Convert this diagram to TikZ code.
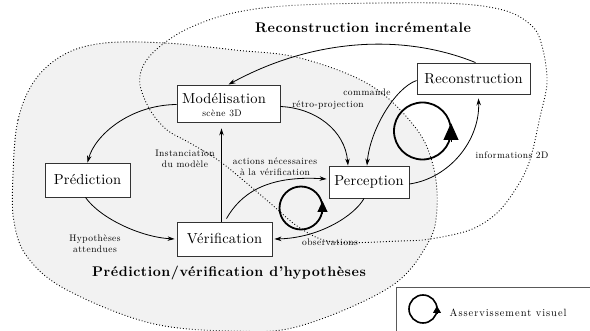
\documentclass[tikz,border=0pt]{standalone}
\usepackage{fontspec}
\setmainfont{lmroman10-regular}[Extension=.otf, BoldFont=lmroman10-bold, ItalicFont=lmroman10-italic, BoldItalicFont=lmroman10-bolditalic]
\usetikzlibrary{arrows.meta,calc}
\begin{document}
\begin{tikzpicture}[x=1pt,y=-1pt,
  box/.style={draw=black!80, line width=0.9pt, fill=white, inner sep=0pt, font=\fontsize{14.5}{16}\selectfont\addfontfeatures{LetterSpace=1.5}},
  lab/.style={font=\fontsize{9.5}{11}\selectfont\addfontfeatures{LetterSpace=4.5}, inner sep=0.5pt, align=center},
  ttl/.style={font=\fontsize{14}{16}\selectfont\bfseries\addfontfeatures{LetterSpace=4}},
  conn/.style={line width=0.8pt, -{Stealth[length=7pt,width=4.5pt]}},
  zone/.style={dash pattern=on 0.9pt off 2.1pt, line width=0.9pt},
  loopc/.style={line width=1.8pt},
]
\useasboundingbox (0,0) rectangle (590,331);
\clip (0,0) rectangle (590,331);

% zones
\draw[zone, fill=black!5] plot[smooth cycle, tension=0.6] coordinates {
 (13,175) (18,120) (35,80) (65,54) (105,43) (165,43) (235,50) (300,58)
 (370,85) (415,127) (433,165) (437,208) (428,243) (390,287) (300,326)
 (233,331) (150,323) (67,290) (28,258) (14,222)};
\draw[zone] plot[smooth cycle, tension=0.55] coordinates {
 (300,5) (233,13) (187,29) (158,48) (143,66) (140,85) (150,110) (167,130)
 (190,143) (218,160) (243,180) (270,203) (300,228) (333,242) (400,241)
 (430,239) (470,230) (497,213) (517,187) (530,160) (540,117) (547,83)
 (543,50) (533,27) (503,10) (440,3)};

% titles
\node[ttl] (t1) at (363,28) {Reconstruction incrémentale};
\node[ttl] (t2) at (229,273) {Prédiction/vérification d'hypothèses};

% boxes
\node[box, minimum width=103pt, minimum height=37pt] (model) at (228.5,103.5) {};
\node[font=\fontsize{14.5}{16}\selectfont\addfontfeatures{LetterSpace=1.5}, anchor=base, inner sep=0pt] (modeltxt) at (224,104) {Modélisation};
\node[lab, anchor=base] (scene) at (222,117) {scène 3D};
\node[box, minimum width=113pt, minimum height=31pt] (recon) at (473.5,78.5) {Reconstruction};
\node[box, minimum width=85pt, minimum height=34pt] (pred) at (87.5,180) {Prédiction};
\node[box, minimum width=80pt, minimum height=32pt] (perc) at (369,182) {Perception};
\node[box, minimum width=95pt, minimum height=34pt] (verif) at (224.5,239) {Vérification};

% connectors
\draw[conn] ([xshift=2pt]recon.north) .. controls (400,32) and (310,40) .. (model.north);
\draw[conn] ([yshift=-1pt]model.west) .. controls (130,105) and (95,135) .. (pred.north);
\draw[conn] ([yshift=-3pt]model.east) .. controls (315,108) and (345,130) .. ([xshift=-21pt]perc.north);
\draw[conn] ([yshift=-2pt]recon.west) .. controls (395,88) and (370,130) .. ([xshift=-2pt]perc.north);
\draw[conn] ([yshift=-2pt]perc.east) .. controls (450,178) and (480,140) .. ([xshift=5pt,yshift=-4pt]recon.south);
\draw[conn] ([xshift=-2pt]pred.south) .. controls (100,218) and (140,237) .. ([xshift=-2pt]verif.west);
\draw[conn, shorten >=6pt] ([xshift=-3pt]verif.north) -- ([xshift=-3pt]verif.north |- model.south);
\draw[conn] ([xshift=2pt,yshift=3pt]verif.north) .. controls (240,195) and (265,175) .. ([xshift=-2pt,yshift=3pt]perc.west);
\draw[conn] ([xshift=-5pt]perc.south) .. controls (355,215) and (320,238) .. ([xshift=2pt]verif.east);

% labels
\node[lab] (lInst) at (185,158.5) {Instanciation\\du modèle};
\node[lab] (lAct) at (275,166.5) {actions nécessaires\\à la vérification};
\node[lab] (lRetro) at (328,105) {rétro-projection};
\node[lab] (lCmd) at (367,92) {commande};
\node[lab] (lInfo) at (512,155) {informations 2D};
\node[lab] (lHyp) at (95,243.5) {Hypothèses\\attendues};
\node[lab] (lObs) at (330,242) {observations};

% visual servoing loops
\draw[loopc] (422.5,131) circle[radius=28.5pt];
\draw[line width=1pt, -{Triangle[length=17pt,width=15pt]}] (451,142) -- (451,123);
\draw[loopc] (301,208) circle[radius=21.5pt];
\draw[line width=1pt, -{Triangle[length=11pt,width=10pt]}] (322.5,214) -- (322.5,201);

% legend
\draw[draw=black!65, line width=0.9pt] (396,287) rectangle (600,345);
\draw[line width=1.6pt] (423,309) circle[radius=14pt];
\draw[line width=1pt, -{Triangle[length=7pt,width=8pt]}] (437,314) -- (437,306);
\node[lab, anchor=west, font=\fontsize{10.5}{12}\selectfont\addfontfeatures{LetterSpace=9}] (leg) at (449,313) {Asservissement visuel};
\end{tikzpicture}
\end{document}
